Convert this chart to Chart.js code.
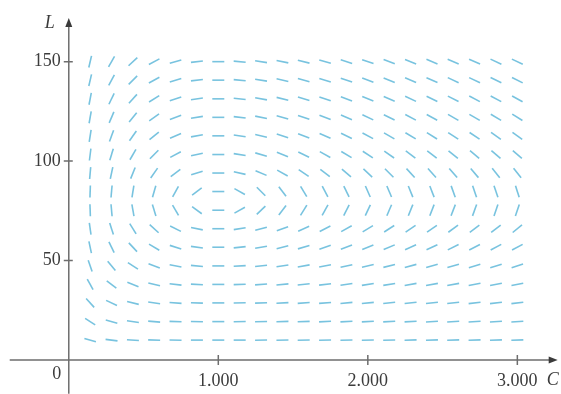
<!DOCTYPE html>
<html>
<head>
<meta charset="utf-8">
<script src="https://cdn.jsdelivr.net/npm/chart.js@4.4.1/dist/chart.umd.min.js"></script>
<style>
    body { margin: 0; background: #fff; }
    #wrap { width: 561px; height: 394px; }
</style>
</head>
<body>
<div id="wrap"><canvas id="fieldChart" width="561" height="394"></canvas></div>
<script>
// grid of the direction field
const caribou = [143, 286, 429, 571, 714, 857, 1000, 1143, 1286, 1429, 1571,
                 1714, 1857, 2000, 2143, 2286, 2429, 2571, 2714, 2857, 3000];
const wolves = [10, 19.3, 28.7, 38, 47.3, 56.7, 66, 75.3, 84.7, 94, 103.3, 112.7, 122, 131.3, 140.7, 150];

// slope of each little segment in degrees (up = positive), one row per wolves value, bottom row first
const angles = [
    [-16, -7, -4, -2, -1, 0, 0, 0, 1, 1, 1, 1, 1, 1, 1, 2, 2, 2, 2, 2, 2],
    [-33, -15, -8, -5, -2, -1, 0, 1, 1, 2, 2, 3, 3, 3, 3, 3, 4, 4, 4, 4, 4],
    [-48, -25, -14, -8, -4, -2, 0, 1, 2, 3, 4, 4, 5, 5, 6, 6, 6, 6, 7, 7, 7],
    [-61, -37, -22, -13, -7, -3, 0, 2, 4, 5, 6, 7, 8, 9, 9, 10, 10, 10, 11, 11, 11],
    [-71, -50, -33, -20, -11, -5, 0, 3, 6, 8, 10, 11, 12, 13, 14, 15, 16, 16, 17, 17, 18],
    [-78, -64, -47, -31, -18, -8, 0, 6, 10, 14, 16, 19, 21, 22, 23, 24, 25, 26, 27, 28, 28],
    [-82, -72, -58, -42, -26, -11, 0, 9, 15, 20, 24, 27, 29, 31, 33, 34, 35, 36, 37, 38, 39],
    [-88, -85, -80, -73, -60, -36, 0, 29, 44, 53, 58, 61, 63, 65, 67, 68, 69, 69, 70, 71, 71],
    [88, 85, 81, 74, 61, 37, 0, -29, -45, -53, -59, -62, -64, -66, -67, -68, -69, -70, -71, -71, -72],
    [85, 78, 68, 55, 37, 17, 0, -13, -23, -29, -34, -38, -41, -43, -45, -47, -48, -49, -50, -51, -51],
    [83, 73, 60, 45, 28, 12, 0, -9, -16, -22, -26, -29, -31, -33, -35, -37, -38, -39, -40, -41, -41],
    [81, 70, 55, 39, 23, 10, 0, -8, -13, -18, -21, -24, -26, -28, -30, -31, -32, -33, -34, -35, -36],
    [80, 67, 51, 35, 20, 9, 0, -7, -12, -16, -19, -21, -23, -25, -26, -28, -29, -30, -30, -31, -32],
    [79, 64, 48, 32, 18, 8, 0, -6, -10, -14, -17, -19, -21, -22, -24, -25, -26, -27, -28, -28, -29],
    [77, 62, 45, 29, 17, 7, 0, -5, -9, -13, -15, -17, -19, -21, -22, -23, -24, -25, -25, -26, -27],
    [77, 60, 43, 28, 16, 7, 0, -5, -9, -12, -14, -16, -18, -19, -21, -22, -23, -23, -24, -25, -25]
];

const xTicks = [1000, 2000, 3000];
const xTickLabels = ["1.000", "2.000", "3.000"];
const yTicks = [50, 100, 150];
const yTickLabels = ["50", "100", "150"];

const points = [];
const rotations = [];
wolves.forEach((l, i) => {
    caribou.forEach((c, j) => {
        points.push({ x: c, y: l });
        rotations.push(-angles[i][j]); // canvas rotates clockwise
    });
});

const serif = "'Liberation Serif', 'DejaVu Serif', serif";

// axes with arrows, drawn from the chart's own scales
const axesPlugin = {
    id: "axes",
    afterDraw(chart) {
        const ctx = chart.ctx;
        const xs = chart.scales.x;
        const ys = chart.scales.y;
        const x0 = xs.getPixelForValue(0);
        const y0 = ys.getPixelForValue(0);
        const xLeft = xs.getPixelForValue(-395);
        const xRight = xs.getPixelForValue(3270);
        const yTop = ys.getPixelForValue(172);
        const yBottom = ys.getPixelForValue(-17);

        ctx.save();
        ctx.strokeStyle = "#6e6e6e";
        ctx.lineWidth = 1.5;
        ctx.beginPath();
        ctx.moveTo(xLeft, y0);
        ctx.lineTo(xRight - 6, y0);
        ctx.moveTo(x0, yBottom);
        ctx.lineTo(x0, yTop + 6);
        ctx.stroke();

        // arrow heads
        ctx.fillStyle = "#3a3a3a";
        ctx.beginPath();
        ctx.moveTo(xRight, y0);
        ctx.lineTo(xRight - 9, y0 - 3.5);
        ctx.lineTo(xRight - 9, y0 + 3.5);
        ctx.closePath();
        ctx.fill();
        ctx.beginPath();
        ctx.moveTo(x0, yTop);
        ctx.lineTo(x0 - 3.5, yTop + 9);
        ctx.lineTo(x0 + 3.5, yTop + 9);
        ctx.closePath();
        ctx.fill();

        // tick marks
        ctx.beginPath();
        xTicks.forEach(v => {
            const px = xs.getPixelForValue(v);
            ctx.moveTo(px, y0 - 5);
            ctx.lineTo(px, y0 + 5);
        });
        yTicks.forEach(v => {
            const py = ys.getPixelForValue(v);
            ctx.moveTo(x0 - 5, py);
            ctx.lineTo(x0 + 4, py);
        });
        ctx.stroke();

        // tick labels
        ctx.fillStyle = "#3c3c3c";
        ctx.font = "18px " + serif;
        ctx.textAlign = "center";
        ctx.textBaseline = "middle";
        xTicks.forEach((v, i) => {
            ctx.fillText(xTickLabels[i], xs.getPixelForValue(v), y0 + 21);
        });
        ctx.textAlign = "right";
        yTicks.forEach((v, i) => {
            ctx.fillText(yTickLabels[i], x0 - 8, ys.getPixelForValue(v));
        });
        ctx.textAlign = "center";
        ctx.fillText("0", x0 - 12, y0 + 14);

        // axis titles
        ctx.font = "italic 18px " + serif;
        ctx.textAlign = "center";
        ctx.fillText("L", x0 - 19, yTop + 5);
        ctx.textAlign = "left";
        ctx.fillText("C", xRight - 11, y0 + 20);
        ctx.restore();
    }
};

const fieldChart = new Chart(document.getElementById("fieldChart"), {
    type: "scatter",
    data: {
        datasets: [
            {
                label: "direction field",
                data: points,
                pointStyle: "line",
                pointRadius: 6,
                pointHoverRadius: 6,
                pointRotation: rotations,
                borderColor: "#78c3df",
                backgroundColor: "#78c3df",
                pointBorderWidth: 1.6,
                borderWidth: 1.6
            }
        ]
    },
    options: {
        responsive: false,
        animation: false,
        devicePixelRatio: 1,
        layout: { padding: 0, autoPadding: false },
        plugins: {
            legend: { display: false },
            tooltip: { enabled: false }
        },
        scales: {
            x: { type: "linear", min: -460, max: 3292, display: false },
            y: { type: "linear", min: -17.1, max: 181, display: false }
        }
    },
    plugins: [axesPlugin]
});
</script>
</body>
</html>
